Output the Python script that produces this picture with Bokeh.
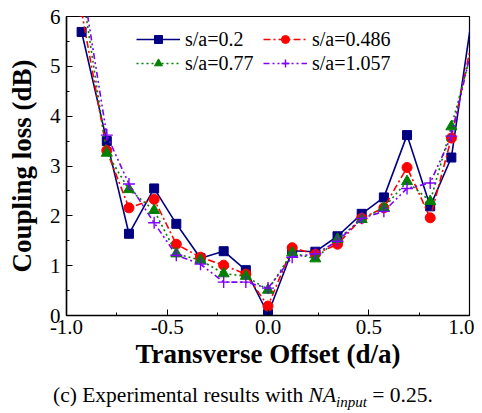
from bokeh.plotting import figure
from bokeh.models import Range1d, FixedTicker, Legend, LegendItem, Div
from bokeh.layouts import column
from bokeh.embed import file_html
from bokeh.resources import INLINE

# ---- data ----
offset = [-0.925, -0.8, -0.69, -0.565, -0.455, -0.335, -0.22, -0.11, 0.0,
          0.12, 0.235, 0.345, 0.465, 0.575, 0.69, 0.805, 0.91, 1.03]
loss_02 = [5.69, 3.5, 1.64, 2.55, 1.84, 1.15, 1.29, 0.91, 0.03,
           1.3, 1.28, 1.59, 2.04, 2.37, 3.62, 2.19, 3.17, 6.5]
loss_0486 = [6.1, 3.31, 2.16, 2.33, 1.43, 1.17, 1.01, 0.83, 0.19,
             1.36, 1.23, 1.43, 1.95, 2.16, 2.97, 1.96, 3.56, 5.85]
loss_077 = [6.6, 3.26, 2.53, 2.11, 1.24, 1.11, 0.84, 0.79, 0.51,
            1.26, 1.14, 1.53, 1.93, 2.16, 2.69, 2.29, 3.79, 5.6]
loss_1057 = [6.77, 3.62, 2.64, 1.86, 1.21, 1.03, 0.67, 0.67, 0.55,
             1.17, 1.24, 1.49, 1.95, 2.09, 2.55, 2.66, 3.6, 5.7]
series_labels = ["s/a=0.2", "s/a=0.486", "s/a=0.77", "s/a=1.057"]

x_ticks = [-1.0, -0.5, 0.0, 0.5, 1.0]
x_tick_labels = ["-1.0", "-0.5", "0.0", "0.5", "1.0"]
x_minor = [-0.75, -0.25, 0.25, 0.75]
y_ticks = [0, 1, 2, 3, 4, 5, 6]
y_tick_labels = ["0", "1", "2", "3", "4", "5", "6"]
y_minor = [0.5, 1.5, 2.5, 3.5, 4.5, 5.5]

FONT = "Liberation Serif"

p = figure(width=474, height=372, output_backend="svg", toolbar_location=None,
           x_range=Range1d(-1, 1), y_range=Range1d(0, 6),
           min_border_left=66, min_border_right=5, min_border_top=16,
           min_border_bottom=57)
p.xgrid.visible = False
p.ygrid.visible = False
p.outline_line_color = "black"
p.outline_line_width = 1.2
p.background_fill_color = "white"
p.border_fill_color = "white"

for ax in (p.xaxis[0], p.yaxis[0]):
    ax.axis_line_color = "black"
    ax.axis_line_width = 1.5
    ax.major_tick_in = 6
    ax.major_tick_out = 0
    ax.minor_tick_in = 3
    ax.minor_tick_out = 0
    ax.major_tick_line_color = "black"
    ax.minor_tick_line_color = "black"
    ax.major_label_text_font = FONT
    ax.major_label_text_font_size = "21px"
    ax.major_label_text_color = "black"
    ax.axis_label_text_font = FONT
    ax.axis_label_text_font_style = "bold"
    ax.axis_label_text_font_size = "27px"
    ax.axis_label_text_color = "black"

p.xaxis.ticker = FixedTicker(ticks=x_ticks, minor_ticks=x_minor)
p.xaxis.major_label_overrides = dict(zip(x_ticks, x_tick_labels))
p.yaxis.ticker = FixedTicker(ticks=y_ticks, minor_ticks=y_minor)
p.yaxis.major_label_overrides = dict(zip(y_ticks, y_tick_labels))
p.xaxis.axis_label = "Transverse Offset (d/a)"
p.yaxis.axis_label = "Coupling loss (dB)"
p.xaxis.major_label_standoff = 4
p.xaxis.axis_label_standoff = 2
p.yaxis.major_label_standoff = 6
p.yaxis.axis_label_standoff = 10

styles = [
    (loss_02, "#000080", None, "square", 9),
    (loss_0486, "#ff0000", "7 3 2 3", "circle", 10),
    (loss_077, "#008000", "2 3", "triangle", 11),
    (loss_1057, "#8000ff", "6 3 2 3 2 3", "cross", 12),
]

items = []
for (ys, col, dash, marker, size), lab in zip(styles, series_labels):
    kw = {} if dash is None else {"line_dash": dash}
    ln = p.line(offset, ys, line_color=col, line_width=1.6, **kw)
    if marker == "cross":
        sc = p.scatter(offset, ys, marker=marker, size=size, line_color=col,
                       line_width=1.4)
    else:
        sc = p.scatter(offset, ys, marker=marker, size=size, line_color=col,
                       fill_color=col, line_width=1)
    items.append(LegendItem(label=lab, renderers=[ln, sc]))

legend = Legend(items=items, orientation="horizontal", ncols=2,
                location=(70, 240), padding=0, margin=0, spacing=0,
                glyph_width=44, glyph_height=20, label_height=24,
                label_width=78, label_standoff=5,
                label_text_font=FONT, label_text_font_size="20px",
                label_text_color="black",
                border_line_color=None, background_fill_alpha=0)
p.add_layout(legend)

caption = Div(
    text=('<div style="font-family:\'Liberation Serif\';font-size:21.5px;'
          'color:black;white-space:nowrap;line-height:22px;'
          'padding-left:53px;padding-top:12px;">'
          '(c) Experimental results with '
          '<i>NA<span style="font-size:15px;position:relative;top:5px;">'
          'input</span></i> = 0.25.</div>'),
    width=474, height=33, margin=0)

layout = column(p, caption, spacing=0)
open("out.html", "w").write(file_html(layout, INLINE))
